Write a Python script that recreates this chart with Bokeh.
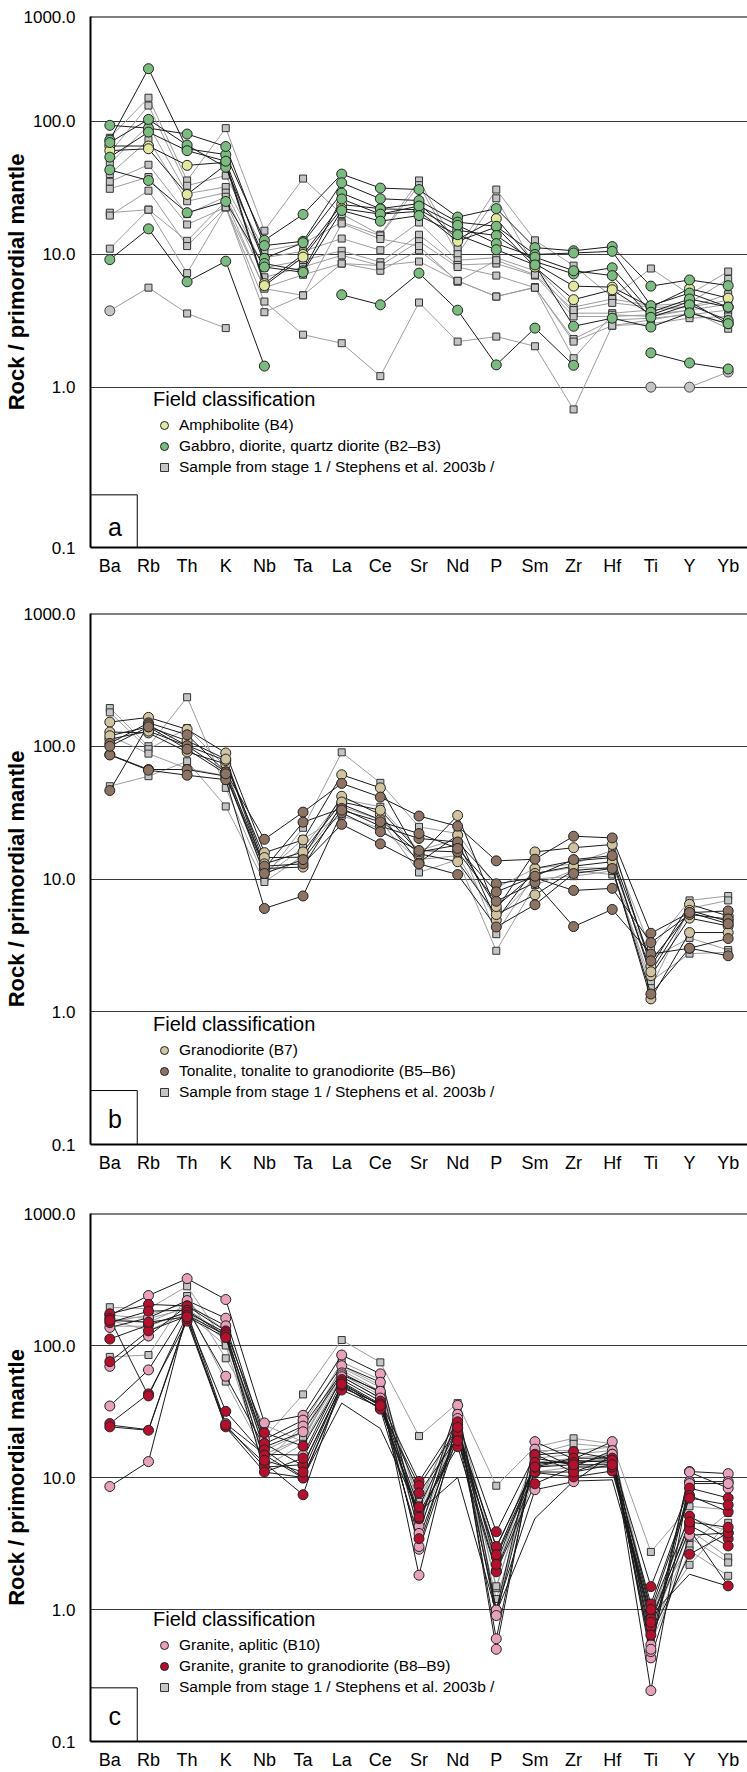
import math
import numpy as np
from bokeh.plotting import figure
from bokeh.models import (FixedTicker, Legend, LegendItem, BoxAnnotation, Label,
                          Span, ColumnDataSource)
from bokeh.layouts import column
from bokeh.embed import file_html
from bokeh.resources import INLINE

nan = float("nan")

elements = ["Ba", "Rb", "Th", "K", "Nb", "Ta", "La", "Ce", "Sr", "Nd",
            "P", "Sm", "Zr", "Hf", "Ti", "Y", "Yb"]
y_tick_labels = ["0.1", "1.0", "10.0", "100.0", "1000.0"]
y_tick_values = [0.1, 1.0, 10.0, 100.0, 1000.0]
# panel a in the reference is drawn with its frame edges labelled 0.1 / 1000.0
a_tick_values = [0.0623, 1.0, 10.0, 100.0, 612.0]

# ---------------- panel a ----------------
a_amphibolite = [
    [65, 65, 46.5, 49, 6.0, 9.95, 23.6, 22, 24, 12.9, 18.5, 8.5, 5.75, 5.65, 4.0, 5.5, 4.67],
    [60, 62, 28.1, 47, 5.8, 9.5, 22, 20, 21, 12.5, 16, 8.0, 4.55, 5.4, 3.5, 4.4, 3.0],
]
a_gabbro = [
    [72, 248, 62, 56, 12.7, 19.9, 40, 31.4, 30.6, 19, 22, 11.2, 10.6, 11.4, 5.75, 6.4, 5.8],
    [93, 88.6, 80, 64.5, 11.6, 12.5, 34.4, 26.1, 25.3, 17.4, 16.2, 9.95, 10.2, 10.5, 4.1, 5.1, 4.0],
    [69, 103, 66, 45, 9.3, 12.2, 28.8, 21.9, 21.6, 15.1, 13.8, 8.8, 7.1, 7.9, 3.66, 4.6, 4.0],
    [53.6, 82.7, 60, 50, 8.5, 7.5, 26, 20, 23, 16.5, 12, 9.5, 7.5, 6.9, 3.35, 4.16, 3.17],
    [43, 35.8, 20.5, 24.9, 8.0, 7.3, 21.3, 17.7, 19.5, 14, 10.8, 8.3, 2.87, 3.3, 2.83, 3.62, 3.0],
    [9.1, 15.5, 6.2, 8.85, 1.44, nan, 4.95, 4.16, 7.2, 3.79, 1.47, 2.78, 1.46, nan, 1.81, 1.52, 1.37],
]
a_stage1 = [
    [75, 150, 35.8, 88.6, 15, 37, 20, 14, 35.8, 11, 30.6, 12.7, 8.2, 4.75, 7.8, 5.0, 7.4],
    [58, 131, 32.7, 39, 10.6, 12, 17.4, 13.8, 33, 10, 26.3, 8, 4.0, 4.6, 4.1, 4.3, 6.5],
    [48, 93, 28.5, 32, 9.4, 10.5, 13.1, 10.7, 17.3, 9, 9.4, 7.5, 3.6, 3.6, 3.8, 4.0, 4.5],
    [40, 72, 25, 29, 7.9, 9, 10.6, 8.7, 14, 8.3, 8.5, 6.9, 3.4, 3.4, 3.5, 3.8, 4.2],
    [35, 47, 20, 27, 6.7, 8, 9.8, 8.2, 12.5, 8.0, 6.9, 5.6, 2.3, 3.2, 3.3, 3.5, 3.8],
    [31, 38, 16.7, 22.5, 5.6, 7, 8.5, 7.5, 10.7, 6.3, 4.8, 5.65, 2.2, 2.9, 3.0, 3.3, 3.4],
    [20.5, 21.6, 12.6, 25, 5.5, 4.9, 17, 13, 11.5, 6.2, 9, 7, 3.8, 4.3, 4.0, 4.0, 5.0],
    [19.5, 30, 11.5, 22.5, 4.4, 2.48, 2.14, 1.21, 4.33, 2.2, 2.4, 2.03, 0.68, 2.9, 3.2, 3.6, 3.0],
    [11, 21.6, 7.2, 22.5, 3.66, 4.9, 8.5, 8.2, 8.8, 6.3, 4.8, 5.6, 1.65, 3.5, 3.4, 3.8, 2.75],
    [3.75, 5.6, 3.58, 2.78, nan, nan, nan, nan, nan, nan, nan, nan, nan, nan, nan, nan, nan],
]
a_other = [
    [3.75, nan, nan, nan, nan, nan, nan, nan, nan, nan, nan, nan, nan, nan, 1.0, 1.0, 1.3],
]

# ---------------- panel b ----------------
b_granodiorite = [
    [152, 165, 134, 89, 15.8, 19.7, 61, 48.6, 14.9, 30.1, 5.85, 16.0, 17.2, 18.2, 2.19, 6.45, 5.27],
    [128, 126, 90.6, 73.6, 14.5, 14.6, 42, 30.6, 13.3, 21.4, 4.9, 12.0, 13.7, 14.5, 1.87, 5.07, 4.43],
    [113, 130, 101, 78, 12.0, 12.3, 36.5, 28, 15.5, 13.5, 5.4, 7.6, 11.6, 12.2, 1.25, 3.95, 3.95],
    [120, 140, 110, 80, 13, 16, 38, 33, 16, 18, 6.2, 11, 12.5, 13.5, 2.0, 5.8, 4.8],
]
b_tonalite = [
    [105, 150, 122, 64, 19.9, 31.9, 52.5, 41.4, 29.8, 25, 13.7, 14.1, 21.0, 20.4, 3.9, 5.58, 5.75],
    [86.5, 66.8, 66.8, 59.5, 12.0, 26.8, 34, 25, 20.2, 19, 9.2, 10.2, 8.2, 8.5, 3.32, 5.4, 5.0],
    [86, 66, 60.5, 56, 6.0, 7.45, 31.5, 22.7, 16.4, 16, 6.8, 9.4, 4.38, 5.9, 2.72, 3.01, 2.64],
    [46.4, 145, 101, 64, 12.5, 13, 25.8, 18.4, 13, 10.8, 4.35, 6.4, 11, 12, 1.36, 3.01, 3.56],
    [100, 140, 95, 62, 11, 14, 33, 27, 22, 17, 8, 10.5, 14, 15, 2.42, 5.6, 4.6],
]
b_stage1 = [
    [194, 100, 234, 48.6, 10.2, 24.3, 90, 53, 24.7, 22, 8.6, 12, 13, 16.4, 2.96, 6.9, 7.45],
    [180, 95, 137, 70, 10.5, 17.2, 40, 35, 16.4, 20, 3.84, 11, 12.2, 12, 1.52, 6.0, 6.9],
    [50, 59.5, 77, 35.2, 9.5, 15, 35, 28, 11.2, 14, 2.88, 9, 11.6, 10.8, 2.5, 3.6, 2.92],
    [120, 88, 68, 60, 11, 20, 30, 24, 14, 15, 5, 10, 10.5, 11.5, 1.7, 2.74, 2.8],
]

# ---------------- panel c ----------------
c_aplitic = [
    [169, 239, 321, 223, 25.9, 29.6, 84.7, 61, 4.28, 35.2, 0.99, 18.7, 13.8, 18.7, 0.54, 11.1, 10.7],
    [137, 162, 219, 161, 19.4, 27.2, 70.3, 52.7, 3.77, 30.1, 0.5, 16.4, 12.0, 16.0, 0.243, 9.33, 9.3],
    [69.5, 118, 200, 141, 18, 24.5, 62, 43.9, 2.86, 20.6, 0.99, 8.08, 9.3, 15, 0.43, 3.65, 3.8],
    [34.8, 65.3, 190, 58.5, 17, 22.2, 60, 45, 1.82, 28, 0.6, 15, 11, 14, 0.48, 11.0, 8.3],
    [8.55, 13.2, 180, 25.6, 15, 14.8, 58, 40, 3.0, 25, 0.9, 14, 12.5, 15, 0.5, 9.0, 9.0],
]
c_granite = [
    [174, 205, 199, 129, 21.8, 17.3, 55.2, 37.9, 9.33, 26.4, 3.88, 14.8, 15.7, 13.8, 1.49, 8.32, 7.0],
    [149, 182, 185, 118, 18.1, 12.3, 50, 33.3, 8.66, 23.5, 2.94, 12.5, 13.5, 13.0, 1.1, 7.33, 5.5],
    [112, 143, 178, 125, 16.2, 10.0, 48, 36, 7.64, 20, 1.96, 10.9, 10.1, 11.2, 0.96, 5.1, 3.44],
    [75.4, 129, 167, 31.7, 14.8, 9.9, 46, 34, 5.4, 17.1, 1.93, 8.97, 12, 12, 0.85, 4.35, 3.03],
    [25.6, 43, 153, 24.2, 12.9, 7.4, 52, 35, 4.87, 21, 2.5, 11, 11, 12.5, 0.74, 4.04, 1.51],
    [24.2, 22.8, 160, 25, 12.0, 12.5, 50, 33, 3.44, 22, 3.0, 12, 14, 14, 0.64, 2.62, 3.8],
    [160, 41.5, 170, 120, 11.0, 14, 53, 36, 6.0, 24, 2.2, 13, 13, 13.5, 1.0, 7.0, 6.2],
    [155, 150, 165, 115, 13.5, 11, 51, 35, 5.0, 19, 2.6, 12, 12.5, 12.5, 0.8, 4.6, 4.2],
]
c_stage1 = [
    [195, 190, 281, 104, 20, 42.6, 110, 74.5, 20.6, 36.6, 8.66, 17, 19.8, 18, 2.73, 6.05, 5.7],
    [82, 84.7, 237, 80, 25, 18.7, 70, 50, 6.53, 30, 2.41, 15, 18, 17, 1.0, 3.08, 5.4],
    [160, 150, 200, 53.3, 15, 20, 65, 45, 5.5, 28, 1.45, 14, 15, 16, 0.8, 2.18, 4.54],
    [150, 170, 210, 130, 13, 25, 75, 55, 6, 32, 0.95, 16, 16, 17, 0.9, 5, 3.9],
    [170, 160, 190, 120, 16, 22, 68, 48, 5, 27, 2.0, 13, 14, 15, 0.7, 4, 2.48],
    [140, 140, 180, 110, 14, 20, 60, 42, 4.5, 24, 1.5, 12, 13, 14, 0.6, 3.5, 2.27],
    [155, 130, 175, 100, 12, 18, 58, 40, 4, 22, 1.2, 11, 12, 13, 0.55, 2.8, 1.8],
]
c_unmarked = [
    [25, 23, 165, 24, 11, 10, 36.6, 23.5, 5.5, 10, 0.95, 4.9, 9.4, 9.6, 0.9, 1.85, 1.5],
]

FONT = "Liberation Sans"
BLACK_LINE = "#1a1a1a"
GRAY_LINE = "#9d9d9d"
GRAY_FILL = "#c4c4c4"


def flatten(samples):
    xs, ys = [], []
    for s in samples:
        for e, v in zip(elements, s):
            if not math.isnan(v):
                xs.append(e)
                ys.append(v)
    return xs, ys


def add_lines(p, samples, color):
    if not samples:
        return
    src = ColumnDataSource(dict(xs=[list(elements) for _ in samples],
                                ys=[np.array(s, dtype=float) for s in samples]))
    p.multi_line("xs", "ys", source=src, line_color=color, line_width=1)


def add_points(p, samples, marker, fill, size, edge="#222222"):
    xs, ys = flatten(samples)
    src = ColumnDataSource(dict(x=xs, y=ys))
    return p.scatter("x", "y", source=src, marker=marker, size=size,
                     fill_color=fill, line_color=edge, line_width=1)


def build_panel(letter, classes, stage1, other, unmarked, y_start, y_end, ticks,
                height, border_top, border_bottom, legend_offset, box_top, letter_y):
    p = figure(x_range=list(elements), y_range=(y_start, y_end), y_axis_type="log",
               width=747, height=height, output_backend="svg", toolbar_location=None,
               min_border_left=86, min_border_right=0, min_border_top=border_top,
               min_border_bottom=border_bottom, outline_line_color=None,
               background_fill_color="white", border_fill_color="white")

    ticker = FixedTicker(ticks=ticks, minor_ticks=[])
    p.yaxis.ticker = ticker
    p.ygrid.ticker = ticker
    p.yaxis.major_label_overrides = {float(v): lab for v, lab in zip(ticks, y_tick_labels)}
    p.yaxis.major_tick_line_color = None
    p.yaxis.minor_tick_line_color = None
    p.yaxis.axis_line_width = 2
    p.yaxis.axis_line_color = "black"
    p.yaxis.major_label_standoff = 9
    p.yaxis.major_label_text_font = FONT
    p.yaxis.major_label_text_font_size = "17px"
    p.yaxis.major_label_text_color = "black"
    p.yaxis.axis_label = "Rock / primordial mantle"
    p.yaxis.axis_label_text_font = FONT
    p.yaxis.axis_label_text_font_size = "22px"
    p.yaxis.axis_label_text_font_style = "bold"
    p.yaxis.axis_label_text_color = "black"
    p.yaxis.axis_label_standoff = -8

    p.ygrid.grid_line_color = "#3a3a3a"
    p.ygrid.grid_line_width = 1
    p.xgrid.grid_line_color = None

    xa = p.below[0]
    xa.axis_line_width = 2
    xa.axis_line_color = "black"
    xa.major_tick_out = 0
    xa.major_tick_in = 0
    xa.major_tick_line_color = None
    xa.major_label_standoff = 8
    xa.major_label_text_font = FONT
    xa.major_label_text_font_size = "18px"
    xa.major_label_text_color = "black"

    # top border of the frame
    p.add_layout(Span(location=y_end, dimension="width", line_color="black", line_width=2))

    # stage-1 samples (grey squares, grey lines)
    add_lines(p, stage1, GRAY_LINE)
    if other:
        add_lines(p, other, GRAY_LINE)
    sq = add_points(p, stage1, "square", GRAY_FILL, 7, edge="#333333")
    if other:
        add_points(p, other, "circle", GRAY_FILL, 10, edge="#444444")

    # classified samples (black lines, coloured circles)
    for label, samples, fill in classes:
        add_lines(p, samples, BLACK_LINE)
    if unmarked:
        add_lines(p, unmarked, BLACK_LINE)
    items = []
    for label, samples, fill in classes:
        r = add_points(p, samples, "circle", fill, 10)
        items.append(LegendItem(label=label, renderers=[r]))
    items.append(LegendItem(label="Sample from stage 1 / Stephens et al. 2003b /", renderers=[sq]))

    legend = Legend(items=items, location=(63, legend_offset), title="Field classification",
                    border_line_color=None, background_fill_alpha=0, padding=0, margin=0,
                    spacing=1, glyph_width=22, glyph_height=20, label_height=20,
                    label_standoff=4, title_standoff=4,
                    label_text_font=FONT, label_text_font_size="15.5px",
                    label_text_color="black",
                    title_text_font=FONT, title_text_font_size="20px",
                    title_text_font_style="normal", title_text_color="black")
    p.add_layout(legend)

    box = BoxAnnotation(right=1.21, top=box_top, fill_alpha=0, line_color="black",
                        line_alpha=1.0, line_width=1)
    p.add_layout(box)
    p.add_layout(Label(x=0.63, y=letter_y, text=letter, text_align="center",
                       text_baseline="middle", text_font=FONT, text_font_size="25px",
                       text_color="black"))
    return p


pa = build_panel("a",
                 [("Amphibolite (B4)", a_amphibolite, "#e2e8a0"),
                  ("Gabbro, diorite, quartz diorite (B2–B3)", a_gabbro, "#7cbb7f")],
                 a_stage1, a_other, None,
                 a_tick_values[0], a_tick_values[-1], a_tick_values,
                 597, 16, 50, 70, 0.155, 0.0886)

pb = build_panel("b",
                 [("Granodiorite (B7)", b_granodiorite, "#cfc3a0"),
                  ("Tonalite, tonalite to granodiorite (B5–B6)", b_tonalite, "#8c7363")],
                 b_stage1, None, None,
                 y_tick_values[0], y_tick_values[-1], y_tick_values,
                 600, 16, 53, 42, 0.255, 0.156)

pc = build_panel("c",
                 [("Granite, aplitic (B10)", c_aplitic, "#e8a1bc"),
                  ("Granite, granite to granodiorite (B8–B9)", c_granite, "#b3102e")],
                 c_stage1, None, c_unmarked,
                 y_tick_values[0], y_tick_values[-1], y_tick_values,
                 575, 16, 28, 44, 0.255, 0.156)

layout = column(pa, pb, pc, spacing=0)
open("out.html", "w").write(file_html(layout, INLINE))
